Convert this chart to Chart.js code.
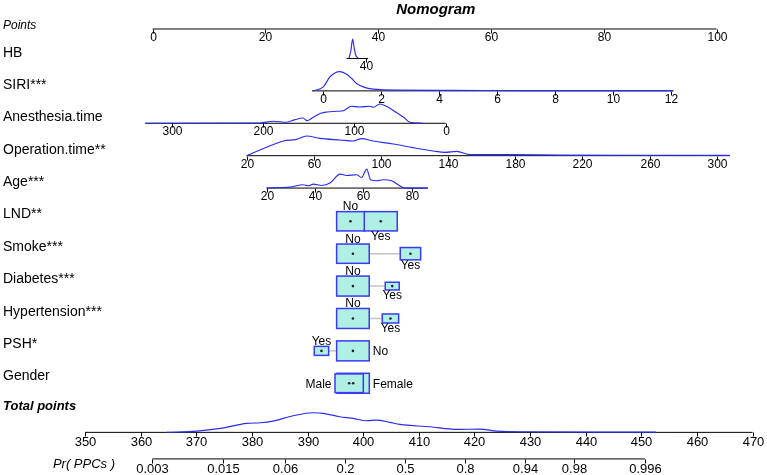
<!DOCTYPE html>
<html>
<head>
<meta charset="utf-8">
<title>Nomogram</title>
<script src="https://cdn.jsdelivr.net/npm/chart.js@4.4.1/dist/chart.umd.min.js"></script>
<style>
  html, body { margin: 0; padding: 0; background: #fff; }
  #wrap { width: 767px; height: 475px; }
</style>
</head>
<body>
<div id="wrap"><canvas id="nomo" width="767" height="475"></canvas></div>
<script>
// ---- values ----
const title = 'Nomogram';
const rowNames = ['HB', 'SIRI***', 'Anesthesia.time', 'Operation.time**', 'Age***',
    'LND**', 'Smoke***', 'Diabetes***', 'Hypertension***', 'PSH*', 'Gender'];

const pointTicks = [0, 20, 40, 60, 80, 100];

// maps are [value a, points a, value b, points b]
// HB only carries the "40" label, so it is kept in points directly
const hbMap = [0, 0, 100, 100];
const hbLine = [34.4, 38.2];
const hbTicks = [37.9];
const hbTickLabels = ['40'];
const hbDensX = [34.8, 35.15, 35.46, 35.7, 35.96, 36.4];
const hbDensY = [0, 0.4, 0.97, 0.6, 0.2, 0.02];

const siriMap = [0, 30.14, 12, 91.84];
const siriLine = [-0.37, 12.1];
const siriTicks = [0, 2, 4, 6, 8, 10, 12];
const siriDensX = [-0.33, 0.02, 0.25, 0.42, 0.6, 0.83, 1.0, 1.17, 1.4, 1.74, 2.67, 4.39, 6.8, 9.56, 12.08];
const siriDensY = [0, 0.2, 0.7, 0.9, 0.965, 0.835, 0.62, 0.37, 0.2, 0.085, 0.035, 0.025, 0.015, 0.01, 0.015];

const anesMap = [0, 51.95, 300, 3.37];
const anesLine = [0, 329];
const anesTicks = [300, 200, 100, 0];
const anesDensX = [329, 203, 189, 174, 165, 156, 152, 145, 136, 130, 119, 112, 103, 94, 83, 79, 72, 65, 57, 46, 39, 25];
const anesDensY = [0, 0.015, 0.1, 0.05, 0.18, 0.265, 0.13, 0.3, 0.515, 0.565, 0.6, 0.63, 0.85, 0.815, 0.85, 0.8, 0.965, 0.85, 0.63, 0.3, 0.05, 0];

const operMap = [20, 16.67, 300, 100];
const operLine = [20, 307.9];
const operTicks = [20, 60, 100, 140, 180, 220, 260, 300];
const operDensX = [20, 31.9, 41.8, 49.8, 55.7, 63.7, 75.6, 83.5, 88.5, 95.4, 107.3, 119.2, 131.1, 138.1, 145.1, 153, 178.6, 206.6, 260, 307.7];
const operDensY = [0, 0.425, 0.735, 0.815, 0.985, 0.865, 0.785, 0.735, 0.85, 0.735, 0.585, 0.4, 0.235, 0.165, 0.215, 0.05, 0.05, 0.03, 0.02, 0.015];

const ageMap = [20, 20.21, 80, 45.92];
const ageLine = [20, 86.7];
const ageTicks = [20, 40, 60, 80];
const ageDensX = [20, 21.4, 29.6, 35.1, 37.2, 39.3, 42.8, 46.2, 50.4, 53.1, 57.2, 59.3, 61.4, 63, 65.5, 68.2, 71.7, 74.4, 77.2, 86.7];
const ageDensY = [0, 0.015, 0.05, 0.165, 0.115, 0.2, 0.13, 0.25, 0.7, 0.63, 0.665, 0.53, 0.95, 0.415, 0.365, 0.415, 0.365, 0.165, 0, 0];

// categorical rows: point value, box width (points) and box height
const lndCats = ['No', 'Yes'];
const lndPts = [35.07, 40.44];
const lndW = [4.9, 5.85];
const lndH = [0.965, 0.965];

const smokeCats = ['No', 'Yes'];
const smokePts = [35.51, 45.71];
const smokeW = [5.78, 3.62];
const smokeH = [0.965, 0.615];

const diabCats = ['No', 'Yes'];
const diabPts = [35.51, 42.48];
const diabW = [5.78, 2.48];
const diabH = [1.0, 0.385];

const hyperCats = ['No', 'Yes'];
const hyperPts = [35.51, 42.16];
const hyperW = [5.78, 2.91];
const hyperH = [1.0, 0.45];

const pshCats = ['No', 'Yes'];
const pshPts = [35.51, 29.93];
const pshW = [5.78, 2.55];
const pshH = [1.0, 0.45];

const genderCats = ['Male', 'Female'];
const genderPts = [34.84, 35.55];
const genderW = [5.02, 5.73];
const genderH = [0.935, 1.0];

// total points and risk
const totMap = [350, -12.0, 470, 106.38];
const totTicks = [350, 360, 370, 380, 390, 400, 410, 420, 430, 440, 450, 460, 470];
const totDensX = [364.7, 370.1, 374.3, 379.1, 381.5, 383.8, 387.4, 391, 392.8, 395.8, 398.2, 400.6, 402.4, 404.8, 406.6, 412, 416.8, 421, 424, 430, 442.6, 452.6];
const totDensY = [0, 0.065, 0.2, 0.45, 0.48, 0.565, 0.83, 0.98, 0.95, 0.78, 0.7, 0.58, 0.615, 0.5, 0.4, 0.28, 0.15, 0.165, 0.065, 0.03, 0.015, 0.015];
const prTicks = [0.003, 0.015, 0.06, 0.2, 0.5, 0.8, 0.94, 0.98, 0.996];
const prTickLabels = ['0.003', '0.015', '0.06', '0.2', '0.5', '0.8', '0.94', '0.98', '0.996'];
const prMid = 407.5;    // total points where risk is 0.5
const prSlope = 7.82;   // total points per logit unit

// ---- layout ----
const X_MIN = -27.07, X_MAX = 108.93;   // points across the canvas
const Y_MIN = -0.605, Y_MAX = 14.056;   // rows down the canvas
const POINTS_AXIS = 0.29;
const AXIS_OFF = 0.2;
const BOX_OFF = 0.225;
const DENS = 0.617;                     // rows per unit of density height
const TOT_AXIS = 12.74;
const PR_AXIS = 13.56;
const BLUE = '#2b2bef';
const BOX_FILL = '#b0f0e4';
const BOX_EDGE = '#3a3af2';
const FONT = '"Liberation Sans", Arial, sans-serif';

function lin(map, v) {
    return map[1] + (v - map[0]) * (map[3] - map[1]) / (map[2] - map[0]);
}
function logit(p) { return Math.log(p / (1 - p)); }
function prToPts(p) { return lin(totMap, prMid + prSlope * logit(p)); }

const contAxes = [
    { row: 1, map: hbMap, line: hbLine, ticks: hbTicks, labels: hbTickLabels, dx: hbDensX, dy: hbDensY },
    { row: 2, map: siriMap, line: siriLine, ticks: siriTicks, dx: siriDensX, dy: siriDensY },
    { row: 3, map: anesMap, line: anesLine, ticks: anesTicks, dx: anesDensX, dy: anesDensY },
    { row: 4, map: operMap, line: operLine, ticks: operTicks, dx: operDensX, dy: operDensY },
    { row: 5, map: ageMap, line: ageLine, ticks: ageTicks, dx: ageDensX, dy: ageDensY }
];
const catRows = [
    { row: 6, cats: lndCats, pts: lndPts, w: lndW, h: lndH, place: ['above', 'below'] },
    { row: 7, cats: smokeCats, pts: smokePts, w: smokeW, h: smokeH, place: ['above', 'below'] },
    { row: 8, cats: diabCats, pts: diabPts, w: diabW, h: diabH, place: ['above', 'below'] },
    { row: 9, cats: hyperCats, pts: hyperPts, w: hyperW, h: hyperH, place: ['above', 'below'] },
    { row: 10, cats: pshCats, pts: pshPts, w: pshW, h: pshH, place: ['right', 'above'] },
    { row: 11, cats: genderCats, pts: genderPts, w: genderW, h: genderH, place: ['left', 'right'] }
];

// ---- datasets ----
function seg(x0, x1, y, color, width, order) {
    return {
        data: [{ x: x0, y: y }, { x: x1, y: y }],
        showLine: true, borderColor: color, borderWidth: width,
        pointRadius: 0, fill: false, order: order
    };
}
function curve(xs, ys, map, baseRow) {
    return {
        data: xs.map((v, i) => ({ x: lin(map, v), y: baseRow - ys[i] * DENS })),
        showLine: true, borderColor: BLUE, borderWidth: 1.15,
        pointRadius: 0, fill: false, cubicInterpolationMode: 'monotone', order: 0
    };
}

const datasets = [];
datasets.push(seg(pointTicks[0], pointTicks[pointTicks.length - 1], POINTS_AXIS, '#000', 1, 2));
contAxes.forEach(a => {
    const base = a.row + AXIS_OFF;
    datasets.push(seg(lin(a.map, a.line[0]), lin(a.map, a.line[1]), base, '#000', 1, 2));
    datasets.push(curve(a.dx, a.dy, a.map, base));
});
catRows.forEach(c => {
    const lo = Math.min(...c.pts), hi = Math.max(...c.pts);
    datasets.push(seg(lo, hi, c.row + BOX_OFF, '#c4c4c4', 1.5, 3));
});
datasets.push(seg(lin(totMap, totTicks[0]), lin(totMap, totTicks[totTicks.length - 1]), TOT_AXIS, '#000', 1, 2));
datasets.push(curve(totDensX, totDensY, totMap, TOT_AXIS));
datasets.push(seg(prToPts(prTicks[0]), prToPts(prTicks[prTicks.length - 1]), PR_AXIS, '#000', 1, 2));

// ---- ticks, boxes and text ----
const nomoPlugin = {
    id: 'nomoPlugin',
    afterDatasetsDraw(chart) {
        const ctx = chart.ctx;
        const xs = chart.scales.x, ys = chart.scales.y;
        const X = v => xs.getPixelForValue(v);
        const Y = v => ys.getPixelForValue(v);

        function tickRow(ptsList, labels, axisRow, size) {
            const y = Math.round(Y(axisRow)) + 0.5;
            ctx.strokeStyle = '#000';
            ctx.lineWidth = 1;
            ctx.fillStyle = '#000';
            ctx.font = size + 'px ' + FONT;
            ctx.textAlign = 'center';
            ctx.textBaseline = 'alphabetic';
            ptsList.forEach((p, i) => {
                const x = Math.round(X(p)) + 0.5;
                ctx.beginPath();
                ctx.moveTo(x, y);
                ctx.lineTo(x, y + 4);
                ctx.stroke();
                ctx.fillText(labels[i], x, y + (size > 12 ? 13.5 : 11.3));
            });
        }

        ctx.save();
        // points scale
        tickRow(pointTicks, pointTicks.map(String), POINTS_AXIS, 12);
        // continuous variables
        contAxes.forEach(a => {
            tickRow(a.ticks.map(t => lin(a.map, t)), a.labels || a.ticks.map(String), a.row + AXIS_OFF, 12);
        });
        // total points and risk
        tickRow(totTicks.map(t => lin(totMap, t)), totTicks.map(String), TOT_AXIS, 13);
        tickRow(prTicks.map(prToPts), prTickLabels, PR_AXIS, 13);

        // categorical boxes
        catRows.forEach(c => {
            const yc = Y(c.row + BOX_OFF);
            const boxes = c.cats.map((name, i) => {
                const x0 = X(c.pts[i] - c.w[i] / 2), x1 = X(c.pts[i] + c.w[i] / 2);
                const half = (Y(c.row + BOX_OFF + c.h[i] * DENS / 2) - yc);
                return { name, i, x0, x1, top: yc - half, bot: yc + half, cx: X(c.pts[i]), area: (x1 - x0) * half };
            });
            boxes.slice().sort((a, b) => b.area - a.area).forEach(b => {
                ctx.fillStyle = BOX_FILL;
                ctx.strokeStyle = BOX_EDGE;
                ctx.lineWidth = 1.5;
                ctx.fillRect(b.x0, b.top, b.x1 - b.x0, b.bot - b.top);
                ctx.strokeRect(b.x0, b.top, b.x1 - b.x0, b.bot - b.top);
            });
            // dots after all boxes so overlapping ones stay visible
            ctx.fillStyle = '#222';
            boxes.forEach(b => {
                ctx.beginPath();
                ctx.arc(b.cx, yc, 1.3, 0, Math.PI * 2);
                ctx.fill();
            });
            ctx.fillStyle = '#000';
            ctx.font = '12px ' + FONT;
            ctx.textBaseline = 'alphabetic';
            boxes.forEach(b => {
                const where = c.place[b.i];
                if (where === 'above') {
                    ctx.textAlign = 'center';
                    ctx.fillText(b.name, b.cx, b.top - 1.5);
                } else if (where === 'below') {
                    ctx.textAlign = 'center';
                    ctx.fillText(b.name, b.cx, b.bot + 9.5);
                } else if (where === 'right') {
                    ctx.textAlign = 'left';
                    ctx.fillText(b.name, b.x1 + 3.5, yc + 4.3);
                } else {
                    ctx.textAlign = 'right';
                    ctx.fillText(b.name, b.x0 - 3.5, yc + 4.3);
                }
            });
        });

        // row labels
        ctx.fillStyle = '#000';
        ctx.textAlign = 'left';
        ctx.textBaseline = 'alphabetic';
        ctx.font = '14px ' + FONT;
        rowNames.forEach((name, i) => ctx.fillText(name, 3, Y(i + 1) + 4.5));
        ctx.font = 'italic 12px ' + FONT;
        ctx.fillText('Points', 3, Y(0.14) + 4.5);
        ctx.font = 'italic bold 13px ' + FONT;
        ctx.fillText('Total points', 3, Y(11.9) + 4.5);
        ctx.font = 'italic 13px ' + FONT;
        ctx.textAlign = 'right';
        ctx.fillText('Pr( PPCs )', 115, Y(13.69) + 4.5);

        // title
        ctx.font = 'italic bold 15px ' + FONT;
        ctx.textAlign = 'center';
        ctx.fillText(title, X(50.2), 13.5);
        ctx.restore();
    }
};

new Chart(document.getElementById('nomo'), {
    type: 'scatter',
    data: { datasets: datasets },
    options: {
        responsive: false,
        animation: false,
        events: [],
        layout: { padding: 0 },
        plugins: {
            legend: { display: false },
            tooltip: { enabled: false }
        },
        scales: {
            x: { type: 'linear', min: X_MIN, max: X_MAX, display: false },
            y: { type: 'linear', min: Y_MIN, max: Y_MAX, reverse: true, display: false }
        }
    },
    plugins: [nomoPlugin]
});
</script>
</body>
</html>
